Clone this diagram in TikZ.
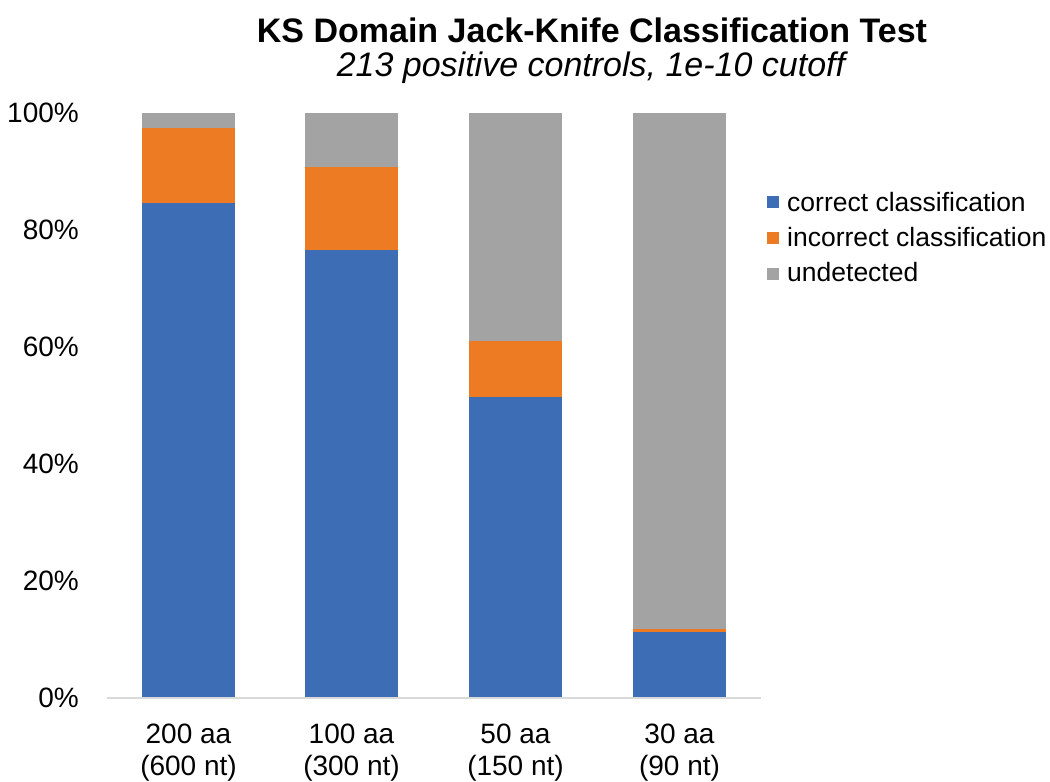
\documentclass[tikz,border=0pt]{standalone}
\usepackage{fontspec}
\setmainfont{Liberation Sans}
\definecolor{cblue}{HTML}{3D6DB5}
\definecolor{corange}{HTML}{ED7B24}
\definecolor{cgray}{HTML}{A3A3A3}
\definecolor{caxis}{HTML}{D9D9D9}
\begin{document}
\begin{tikzpicture}[x=1pt,y=-1pt,
  ticklab/.style={anchor=east,inner sep=0pt,font=\fontsize{28}{30}\selectfont},
  catlab/.style={inner sep=0pt,align=center,font=\fontsize{28}{32}\selectfont},
  leglab/.style={anchor=west,inner sep=0pt,font=\fontsize{26.5}{30}\selectfont},
  legsq/.style={minimum size=12pt,inner sep=0pt,draw=none}]
\useasboundingbox (0,0) rectangle (1050,782);
\def\bw{93}
% title
\node[font=\fontsize{34}{36}\bfseries\selectfont,inner sep=0pt] (title) at (592,30) {KS Domain Jack-Knife Classification Test};
\node[font=\fontsize{34}{36}\itshape\selectfont,inner sep=0pt] (subtitle) at (591,68) {213 positive controls, 1e-10 cutoff};
% y tick labels
\foreach \p/\t in {0/0\%,20/20\%,40/40\%,60/60\%,80/80\%,100/100\%}{
  \node[ticklab] (y\p) at (79,{698-5.85*\p}) {\t};
}
% bars: x-left, blue top, orange top
\foreach \i/\xl/\b/\o in {1/142/84.6/97.5, 2/305/76.6/90.8, 3/469/51.5/61.0, 4/633/11.3/11.8}{
  \fill[cblue] (\xl,698) rectangle ({\xl+\bw},{698-5.85*\b});
  \fill[corange] (\xl,{698-5.85*\b}) rectangle ({\xl+\bw},{698-5.85*\o});
  \fill[cgray] (\xl,{698-5.85*\o}) rectangle ({\xl+\bw},113);
}
% axis line
\draw[caxis,line width=1.5pt] (107,698) -- (761,698);
% category labels
\node[catlab] (c1) at (188.5,753) {200 aa\\(600 nt)};
\node[catlab] (c2) at (351.5,753) {100 aa\\(300 nt)};
\node[catlab] (c3) at (515.5,753) {50 aa\\(150 nt)};
\node[catlab] (c4) at (679.5,753) {30 aa\\(90 nt)};
% legend
\node[legsq,fill=cblue] (l1) at (773,202) {};
\node[legsq,fill=corange] (l2) at (773,238) {};
\node[legsq,fill=cgray] (l3) at (773,273.5) {};
\node[leglab] (t1) at (787,202) {correct classification};
\node[leglab] (t2) at (787,237) {incorrect classification};
\node[leglab] (t3) at (787,272) {undetected};
\end{tikzpicture}
\end{document}
